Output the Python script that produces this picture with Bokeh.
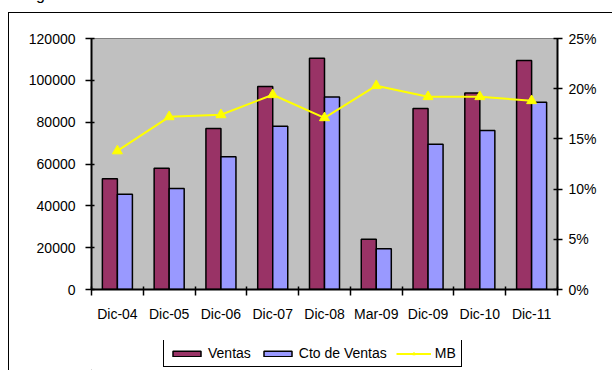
from bokeh.plotting import figure
from bokeh.layouts import column
from bokeh.models import (ColumnDataSource, LinearAxis, Range1d, FixedTicker,
                          NumeralTickFormatter, Legend, LegendItem, InlineStyleSheet)
from bokeh.transform import dodge
from bokeh.embed import file_html
from bokeh.resources import INLINE

categories = ["Dic-04", "Dic-05", "Dic-06", "Dic-07", "Dic-08", "Mar-09", "Dic-09", "Dic-10", "Dic-11"]
ventas = [53000, 58000, 77000, 97000, 110500, 24000, 86500, 94000, 109500]
cto_ventas = [45500, 48300, 63500, 78000, 92000, 19500, 69500, 76000, 89500]
mb = [0.138, 0.172, 0.174, 0.194, 0.171, 0.203, 0.192, 0.192, 0.188]
left_ticks = [0, 20000, 40000, 60000, 80000, 100000, 120000]
right_ticks = [0, 0.05, 0.10, 0.15, 0.20, 0.25]
series_names = ["Ventas", "Cto de Ventas", "MB"]

FONT = "Liberation Sans"
FS = "14px"
C_V, C_C, C_L = "#993366", "#9999FF", "#FFFF00"

xs = [i + 0.5 for i in range(len(categories))]
src = ColumnDataSource(dict(x=xs, cat=categories, ventas=ventas, cto=cto_ventas, mb=mb))

p = figure(frame_width=466, frame_height=251,
           min_border_left=91, min_border_right=55, min_border_top=38, min_border_bottom=51,
           x_range=Range1d(0, len(categories)), y_range=Range1d(0, 120000),
           output_backend="svg", toolbar_location=None, tools="")
p.background_fill_color = "#C0C0C0"
p.border_fill_color = "white"
p.outline_line_color = "#808080"
p.outline_line_width = 1
p.xgrid.visible = False
p.ygrid.visible = False
p.extra_y_ranges = {"pct": Range1d(0, 0.25)}

bw = 0.29
p.vbar(x=dodge("x", -bw / 2, range=p.x_range), top="ventas", width=bw, source=src,
       fill_color=C_V, line_color="black", line_width=1.5)
p.vbar(x=dodge("x", bw / 2, range=p.x_range), top="cto", width=bw, source=src,
       fill_color=C_C, line_color="black", line_width=1.5)
p.line(x="x", y="mb", source=src, y_range_name="pct", line_color=C_L, line_width=2)
p.scatter(x="x", y="mb", source=src, y_range_name="pct", marker="triangle", size=10,
          fill_color=C_L, line_color=C_L)

# x axis: labels at centers, ticks at boundaries
xa = p.xaxis[0]
xa.ticker = FixedTicker(ticks=xs, minor_ticks=list(range(len(categories) + 1)))
xa.major_label_overrides = {x: c for x, c in zip(xs, categories)}
xa.major_tick_out = 6
xa.major_tick_in = 0
xa.minor_tick_line_color = "black"
xa.minor_tick_line_width = 1.5
xa.minor_tick_out = 6
xa.minor_tick_in = 3
xa.major_label_standoff = 10

ya = p.yaxis[0]
ya.ticker = FixedTicker(ticks=left_ticks)
ya.formatter = NumeralTickFormatter(format="0")
ya.minor_tick_line_color = None
ya.major_tick_in = 3
ya.major_tick_out = 6
ya.major_label_standoff = 10

ra = LinearAxis(y_range_name="pct", ticker=FixedTicker(ticks=right_ticks),
                formatter=NumeralTickFormatter(format="0%"))
ra.minor_tick_line_color = None
ra.major_tick_in = 4
ra.major_tick_out = 5
ra.major_label_standoff = 6
p.add_layout(ra, "right")

for ax in [xa, ya, ra]:
    ax.axis_line_color = "black"
    ax.axis_line_width = 2
    ax.major_tick_line_width = 1.5
    ax.major_label_text_font = FONT
    ax.major_label_text_font_size = FS
    ax.major_label_text_color = "black"
xa.major_tick_line_color = None

# legend strip below the chart (proxy glyphs sit outside the strip's visible range)
lg = figure(frame_width=612, frame_height=30, min_border=0,
            x_range=Range1d(0, 1), y_range=Range1d(0, 1),
            x_axis_type=None, y_axis_type=None,
            output_backend="svg", toolbar_location=None, tools="")
lg.outline_line_color = None
lg.background_fill_color = "white"
lg.border_fill_color = "white"
lg.xgrid.visible = False
lg.ygrid.visible = False
proxy = ColumnDataSource(dict(x=[-5], y=[-5]))
g_v = lg.vbar(x="x", top="y", width=0.1, source=proxy,
              fill_color=C_V, line_color="black", line_width=1.5)
g_c = lg.vbar(x="x", top="y", width=0.1, source=proxy,
              fill_color=C_C, line_color="black", line_width=1.5)
g_l = lg.line(x="x", y="y", source=proxy, line_color=C_L, line_width=2)
g_m = lg.scatter(x="x", y="y", source=proxy, marker="triangle", size=8,
                 fill_color=C_L, line_color=C_L)

legend = Legend(items=[LegendItem(label=series_names[0], renderers=[g_v]),
                       LegendItem(label=series_names[1], renderers=[g_c]),
                       LegendItem(label=series_names[2], renderers=[g_l, g_m])],
                orientation="horizontal", location=(163, 3),
                glyph_width=35, glyph_height=7, label_height=14, label_standoff=4,
                spacing=9, padding=5, margin=0,
                label_text_font=FONT, label_text_font_size=FS, label_text_color="black",
                border_line_color="black", border_line_width=1.5, border_line_alpha=1,
                background_fill_color="white", background_fill_alpha=1)
lg.add_layout(legend, "center")

layout = column(p, lg, spacing=0)

# outer chart border (partly off the page) and the cut-off caption fragment above it
layout.stylesheets = [InlineStyleSheet(css=(
    ":host::after { content: ''; position: absolute; left: 8px; top: 12px; right: 0; bottom: 0;"
    " box-sizing: border-box; border-left: 1.5px solid black; border-top: 1.5px solid black;"
    " pointer-events: none; z-index: 10; }"
    ":host::before { content: 'g'; position: absolute; left: 36px; top: -13.5px;"
    " font: 16px/16px 'Liberation Sans'; color: black; pointer-events: none; z-index: 10; }"))]

open("out.html", "w").write(file_html(layout, INLINE))
